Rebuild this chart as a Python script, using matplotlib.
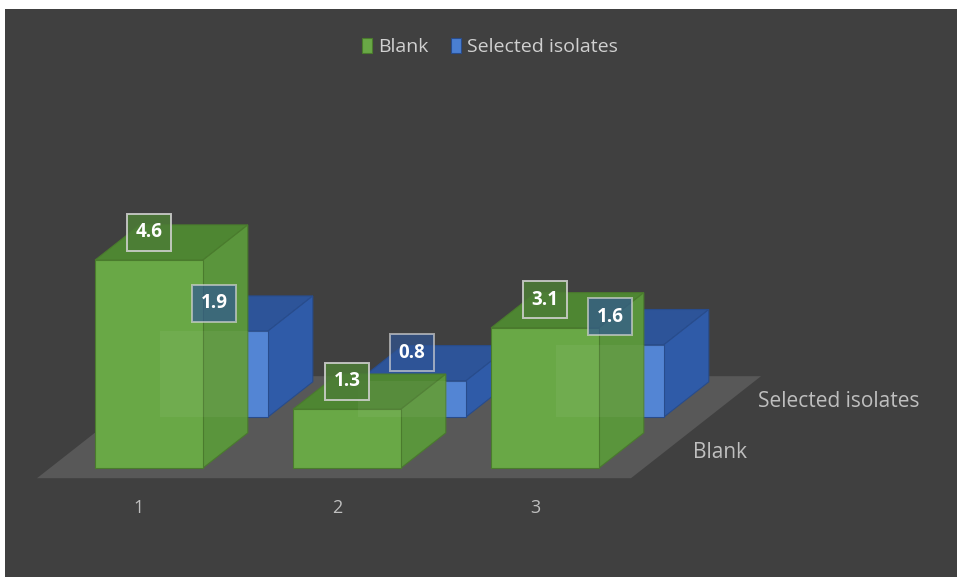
import matplotlib
matplotlib.use("Agg")
import matplotlib.pyplot as plt
from matplotlib.patches import Polygon, Rectangle

plt.rcParams['font.family'] = ['Open Sans', 'DejaVu Sans']

categories = ["1", "2", "3"]
series = ["Blank", "Selected isolates"]
blank = [4.6, 1.3, 3.1]
selected = [1.9, 0.8, 1.6]
values = [blank, selected]

# oblique projection: one row of depth shifts by (DX, DZ) in data units
DX = 65 / 198
DZ = 51 / 45.2
BAR_W = 0.545
BAR_D = 0.69
FLOOR_FRONT, FLOOR_BACK = -0.2, 1.8

colors = {
    "Blank": dict(front="#69a846", top="#4e8632", side="#5a953c", edge="#4a7b2d",
                  box="#4c7d36", box_alpha=0.85),
    "Selected isolates": dict(front="#4a7fd2", top="#2d5499", side="#2f5ba8", edge="#284c8c",
                              box="#2f5597", box_alpha=0.68),
}


def proj(x, z, d):
    return (x + d * DX, z + d * DZ)


fig = plt.figure(figsize=(9.57, 5.77), dpi=100, facecolor="white")
fig.patches.append(Rectangle((5 / 957, 0), 952 / 957, 568 / 577, transform=fig.transFigure,
                             facecolor="#404040", edgecolor="none", zorder=-10))
ax = fig.add_axes([0, 0, 1, 1])
ax.set_facecolor("none")
ax.set_xlim((0 - 149) / 198, (957 - 149) / 198)
ax.set_ylim((468 - 577) / 45.2, 468 / 45.2)
ax.axis("off")

n = len(categories)
# floor
floor = [proj(-0.5, 0, FLOOR_FRONT), proj(n - 0.5, 0, FLOOR_FRONT),
         proj(n - 0.5, 0, FLOOR_BACK), proj(-0.5, 0, FLOOR_BACK)]
ax.add_patch(Polygon(floor, closed=True, facecolor="#585858", edgecolor="none", zorder=1))

handles = []
# back row first, then front row
for r in [1, 0]:
    name = series[r]
    c = colors[name]
    z = 10 - 5 * r
    xs = [i + r * DX for i in range(n)]
    bars = ax.bar(xs, values[r], width=BAR_W, bottom=r * DZ, color=c["front"],
                  edgecolor=c["edge"], linewidth=0.8, zorder=z + 1, label=name)
    handles.insert(0, bars)
    for i, v in enumerate(values[r]):
        x0, x1 = i - BAR_W / 2, i + BAR_W / 2
        top = [proj(x0, v, r), proj(x1, v, r), proj(x1, v, r + BAR_D), proj(x0, v, r + BAR_D)]
        side = [proj(x1, 0, r), proj(x1, v, r), proj(x1, v, r + BAR_D), proj(x1, 0, r + BAR_D)]
        ax.add_patch(Polygon(top, closed=True, facecolor=c["top"], edgecolor=c["edge"],
                             linewidth=0.8, zorder=z))
        ax.add_patch(Polygon(side, closed=True, facecolor=c["side"], edgecolor=c["edge"],
                             linewidth=0.8, zorder=z))

# faint trace of the back bars seen through the front ones
for i, v in enumerate(selected):
    ax.add_patch(Rectangle(proj(i - BAR_W / 2, 0, 1), BAR_W, v, facecolor="white",
                           alpha=0.05, edgecolor="none", zorder=12))

# data labels
for r in [1, 0]:
    c = colors[series[r]]
    for i, v in enumerate(values[r]):
        ax.annotate(f"{v:.1f}", proj(i, v, r), xytext=(0, 28), textcoords="offset pixels",
                    ha="center", va="center", color="white", fontsize=13.5, fontweight="bold",
                    zorder=20,
                    bbox=dict(boxstyle="square,pad=0.45", facecolor=c["box"], alpha=c["box_alpha"],
                              edgecolor="#d4d4d4", linewidth=1.4))

# category labels along the floor front
for i, cat in enumerate(categories):
    ax.annotate(cat, proj(i, 0, FLOOR_FRONT), xytext=(3, -30), textcoords="offset pixels",
                ha="center", va="center", color="#bfbfbf", fontsize=13)

# series labels along the depth axis
for r, name in enumerate(series):
    ax.annotate(name, proj(n - 0.5, 0, r + BAR_D / 2), xytext=(27, -2), textcoords="offset pixels",
                ha="left", va="center", color="#bfbfbf", fontsize=15)

fig.legend([h.patches[0] for h in handles], series, loc="center", bbox_to_anchor=(0.512, 0.918),
           ncol=2, frameon=False, fontsize=14, labelcolor="#d0d0d0", handlelength=0.5,
           handleheight=0.8, handletextpad=0.3, columnspacing=1.2)

fig.savefig("out.png", dpi=100, facecolor="white")
